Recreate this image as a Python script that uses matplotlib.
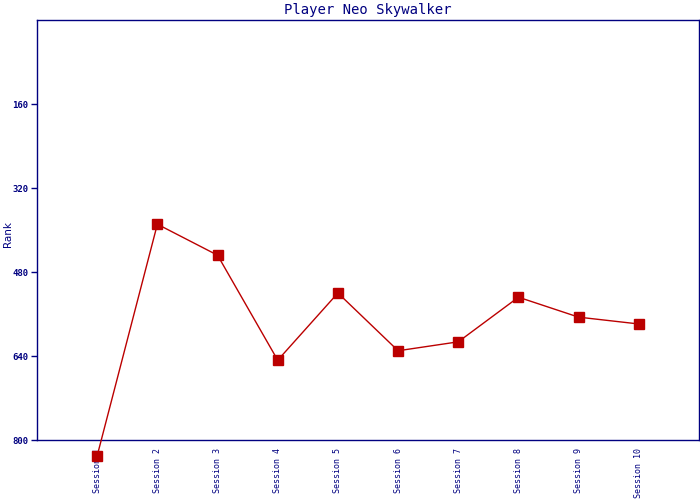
#!/usr/bin/env python

import matplotlib
matplotlib.use('Agg')
import matplotlib.pyplot as plt


# Session labels and rank values
sessions = ['Session 1', 'Session 2', 'Session 3', 'Session 4', 'Session 5',
            'Session 6', 'Session 7', 'Session 8', 'Session 9', 'Session 10']
ranks = [830, 389, 448, 648, 520, 630, 613, 528, 566, 579]
ytick_vals = [160, 320, 480, 640, 800]

navy = '#000080'
red = '#BB0000'

fig = plt.figure(figsize=(7, 5), dpi=100)
ax = fig.add_axes([37/700, 60/500, 662/700, 420/500])

x = list(range(1, len(sessions) + 1))
ax.plot(x, ranks, color=red, linewidth=1.0, marker='s', markersize=7,
        markerfacecolor=red, markeredgecolor=red, clip_on=False, zorder=3)

ax.set_xlim(0, 11)
ax.set_ylim(800, 0)

ax.set_xticks(x)
ax.set_xticklabels(sessions, rotation=90, va='top', ha='center',
                   family='DejaVu Sans Mono', fontsize=6, color=navy)
ax.tick_params(axis='x', length=0, pad=6)

ax.set_yticks(ytick_vals)
ax.set_yticklabels([str(v) for v in ytick_vals], family='DejaVu Sans Mono',
                   fontsize=6.5, color=navy, fontweight='bold')
ax.tick_params(axis='y', length=4, width=1, color=navy, pad=2)

for s in ax.spines.values():
    s.set_color(navy)
    s.set_linewidth(1)

# Axis label sits at the very left edge of the figure
fig.text(8/700, 1 - 234/500, 'Rank', color=navy, fontsize=7.5,
         rotation=90, ha='center', va='center')
ax.set_title('Player Neo Skywalker', color=navy, family='DejaVu Sans Mono',
             fontsize=10, pad=4)

fig.savefig('out.png', dpi=100)
